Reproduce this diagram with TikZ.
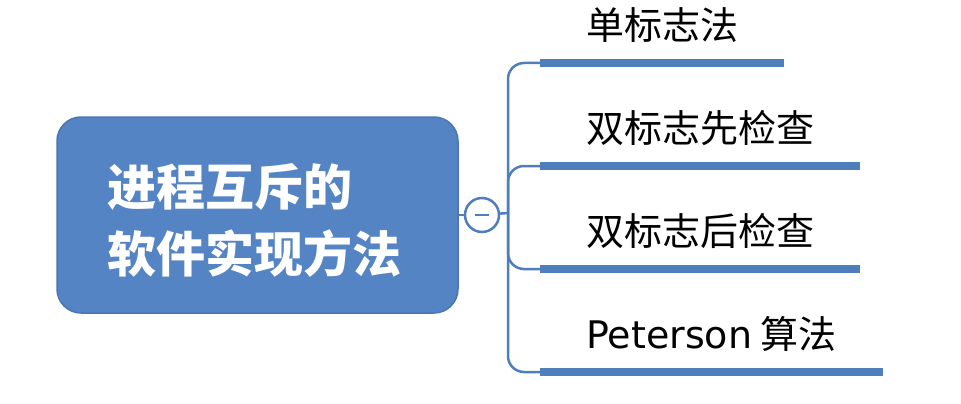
\documentclass[tikz,border=0pt]{standalone}
\usepackage{fontspec}
\usepackage{tikz}
\usetikzlibrary{positioning,calc}
\newfontfamily\cjk{Noto Sans CJK SC}
\newfontfamily\latin{DejaVu Sans}
\definecolor{mapblue}{HTML}{5484C3}
\definecolor{mapedge}{HTML}{4A77B3}
\definecolor{mapline}{HTML}{4F7EBD}
\tikzset{
  topic/.style={draw=mapedge, fill=mapblue, line width=1.5pt, rounded corners=24pt,
    minimum width=401pt, minimum height=196pt, text width=300pt, align=left,
    inner sep=0pt, text=white, font=\cjk\bfseries\fontsize{49}{67}\selectfont},
  knob/.style={circle, draw=mapline, fill=white, line width=2.5pt, minimum size=34pt, inner sep=0pt},
  leaf/.style={anchor=south west, inner xsep=46pt, inner ysep=0pt, text height=30pt,
    text depth=23pt, font=\cjk\fontsize{38}{38}\selectfont},
  branch/.style={draw=mapline, line width=2.5pt, rounded corners=16pt},
  uline/.style={draw=mapline, line width=8pt},
}
\begin{document}
\begin{tikzpicture}[x=1pt,y=-1pt]
  \useasboundingbox (0,0) rectangle (961,404);

  % main topic
  \node[topic] (main) at (257.5,215) {\rule{0pt}{53pt}进程互斥的\\软件实现方法};

  % collapse button
  \node[knob, right=5pt of main] (btn) {};
  \draw[mapline, line width=2pt] ($(btn.center)+(-7,0)$) -- ($(btn.center)+(7,0)$);
  \coordinate (fork) at (508,213);
  \draw[branch] (main) -- (btn);
  \draw[branch] (btn) -- (fork);

  % sub topics
  \foreach \i/\lbl in {1/单标志法, 2/双标志先检查, 3/双标志后检查, 4/{\latin Peterson} 算法}{
    \node[leaf] (t\i) at (540,{63+103*(\i-1)}) {\lbl};
    \draw[uline] (t\i.south west) -- (t\i.south east);
    \draw[branch] (fork) |- (t\i.south west);
  }
\end{tikzpicture}
\end{document}
